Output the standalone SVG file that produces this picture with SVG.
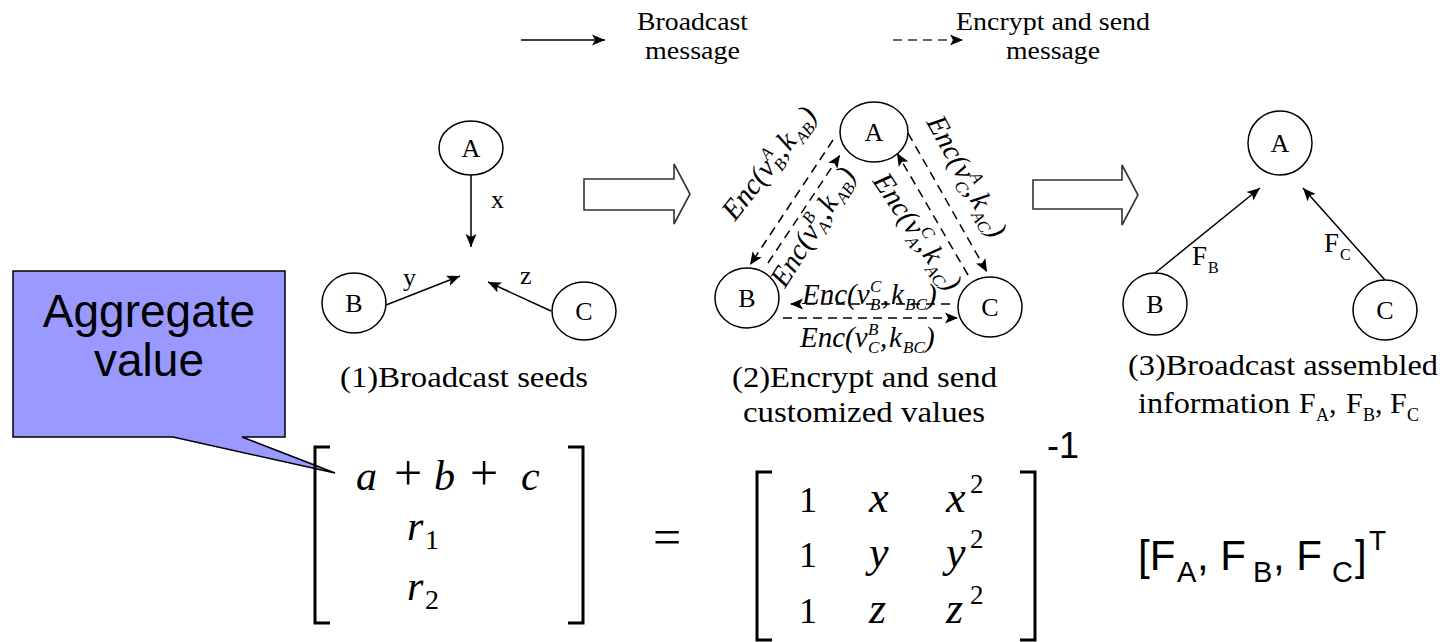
<svg xmlns="http://www.w3.org/2000/svg" width="1446" height="642" viewBox="0 0 1446 642">
<defs>
<marker id="ah" markerUnits="userSpaceOnUse" markerWidth="14" markerHeight="12" refX="13" refY="6" orient="auto">
<path d="M0,0.5 L13,6 L0,11.5 L3,6 Z" fill="#000" stroke="none"/>
</marker>
<style>
.ser{font-family:"Liberation Serif","Times New Roman",serif;fill:#000}
.san{font-family:"Liberation Sans",Arial,sans-serif;fill:#000}
.it{font-style:italic}
.node{fill:#fff;stroke:#000;stroke-width:1.5}
.solid{stroke:#000;stroke-width:1.5;fill:none;marker-end:url(#ah)}
.dash{stroke:#000;stroke-width:1.5;fill:none;stroke-dasharray:9 6;marker-end:url(#ah)}
.blk{fill:#fff;stroke:#333;stroke-width:1.6}
.brk{fill:none;stroke:#000;stroke-width:3}
.lbl{font-size:26px;text-anchor:middle}
.cap{font-size:30px}
.enc{font-size:29px}
.sm{font-size:17px}
</style>
</defs>
<rect width="1446" height="642" fill="#fff"/>

<g id="legend">
<line class="solid" x1="521" y1="40" x2="605" y2="40"/>
<text class="ser" x="637" y="30" font-size="25" textLength="111" lengthAdjust="spacingAndGlyphs">Broadcast</text>
<text class="ser" x="645" y="59" font-size="25" textLength="95" lengthAdjust="spacingAndGlyphs">message</text>
<line class="dash" x1="893" y1="40" x2="963" y2="40" style="stroke:#333"/>
<text class="ser" x="956" y="30" font-size="25" textLength="194" lengthAdjust="spacingAndGlyphs">Encrypt and send</text>
<text class="ser" x="1006" y="59" font-size="25" textLength="94" lengthAdjust="spacingAndGlyphs">message</text>
</g>

<g id="connectors">
<line class="solid" x1="471" y1="174" x2="471" y2="247"/>
<line class="solid" x1="386" y1="305" x2="460" y2="276"/>
<line class="solid" x1="551" y1="311" x2="488" y2="282"/>
<line class="dash" x1="833" y1="140" x2="750" y2="265"/>
<line class="dash" x1="768" y1="263" x2="840" y2="155"/>
<line class="dash" x1="908" y1="133" x2="987" y2="272"/>
<line class="dash" x1="968" y1="275" x2="897" y2="153"/>
<line class="dash" x1="950" y1="304" x2="790" y2="304"/>
<line class="dash" x1="783" y1="318" x2="958" y2="318"/>
<line class="solid" x1="1155" y1="273" x2="1260" y2="188"/>
<line class="solid" x1="1385" y1="280" x2="1303" y2="188"/>
</g>

<g id="p1-labels">
<text class="ser" x="491" y="208" font-size="26">x</text>
<text class="ser" x="403" y="286" font-size="26">y</text>
<text class="ser" x="520" y="284" font-size="26">z</text>
<text class="ser cap" x="340" y="387" textLength="248" lengthAdjust="spacingAndGlyphs">(1)Broadcast seeds</text>
</g>

<g id="p1-A"><ellipse class="node" cx="471" cy="148" rx="32" ry="27"/><text class="ser lbl" x="471" y="157">A</text></g>
<g id="p1-B"><ellipse class="node" cx="354" cy="303" rx="32" ry="30"/><text class="ser lbl" x="354" y="312">B</text></g>
<g id="p1-C"><ellipse class="node" cx="584" cy="311" rx="32" ry="29"/><text class="ser lbl" x="584" y="320">C</text></g>

<g id="block-arrow-1"><path class="blk" d="M584,179 H674 V164 L690,194 L674,224 V210 H584 Z"/></g>
<g id="block-arrow-2"><path class="blk" d="M1033,180 H1122 V165 L1138,195 L1122,225 V209 H1033 Z"/></g>

<g id="p2-A"><ellipse class="node" cx="874" cy="132" rx="34" ry="30"/><text class="ser lbl" x="874" y="141">A</text></g>
<g id="p2-B"><ellipse class="node" cx="747" cy="298" rx="32" ry="30"/><text class="ser lbl" x="747" y="307">B</text></g>
<g id="p2-C"><ellipse class="node" cx="990" cy="307" rx="32" ry="30"/><text class="ser lbl" x="990" y="316">C</text></g>

<g id="p2-labels" class="ser it">
<g transform="translate(735,222) rotate(-52)">
<text class="enc"><tspan x="0" y="0">Enc(v</tspan><tspan class="sm" x="68" y="-12">A</tspan><tspan class="sm" x="68" y="6">B</tspan><tspan x="80" y="0">,</tspan><tspan x="89" y="0">k</tspan><tspan class="sm" x="103" y="6">AB</tspan><tspan x="125" y="0">)</tspan></text>
</g>
<g transform="translate(785,289) rotate(-58)">
<text class="enc"><tspan x="0" y="0">Enc(v</tspan><tspan class="sm" x="68" y="-12">B</tspan><tspan class="sm" x="68" y="6">A</tspan><tspan x="80" y="0">,</tspan><tspan x="89" y="0">k</tspan><tspan class="sm" x="103" y="6">AB</tspan><tspan x="125" y="0">)</tspan></text>
</g>
<g transform="translate(926,122) rotate(61)">
<text class="enc"><tspan x="0" y="0">Enc(v</tspan><tspan class="sm" x="68" y="-12">A</tspan><tspan class="sm" x="68" y="6">C</tspan><tspan x="80" y="0">,</tspan><tspan x="89" y="0">k</tspan><tspan class="sm" x="103" y="6">AC</tspan><tspan x="125" y="0">)</tspan></text>
</g>
<g transform="translate(872,181) rotate(56)">
<text class="enc"><tspan x="0" y="0">Enc(v</tspan><tspan class="sm" x="68" y="-12">C</tspan><tspan class="sm" x="68" y="6">A</tspan><tspan x="80" y="0">,</tspan><tspan x="89" y="0">k</tspan><tspan class="sm" x="103" y="6">AC</tspan><tspan x="125" y="0">)</tspan></text>
</g>
<g transform="translate(802,304)">
<text class="enc"><tspan x="0" y="0">Enc(v</tspan><tspan class="sm" x="68" y="-12">C</tspan><tspan class="sm" x="68" y="6">B</tspan><tspan x="80" y="0">,</tspan><tspan x="89" y="0">k</tspan><tspan class="sm" x="103" y="6">BC</tspan><tspan x="125" y="0">)</tspan></text>
</g>
<g transform="translate(800,347)">
<text class="enc"><tspan x="0" y="0">Enc(v</tspan><tspan class="sm" x="68" y="-12">B</tspan><tspan class="sm" x="68" y="6">C</tspan><tspan x="80" y="0">,</tspan><tspan x="89" y="0">k</tspan><tspan class="sm" x="103" y="6">BC</tspan><tspan x="125" y="0">)</tspan></text>
</g>
</g>
<g id="p2-caption">
<text class="ser cap" x="732" y="387" textLength="265" lengthAdjust="spacingAndGlyphs">(2)Encrypt and send</text>
<text class="ser cap" x="743" y="422" textLength="242" lengthAdjust="spacingAndGlyphs">customized values</text>
</g>

<g id="p3-A"><ellipse class="node" cx="1280" cy="143" rx="32" ry="32"/><text class="ser lbl" x="1280" y="152">A</text></g>
<g id="p3-B"><ellipse class="node" cx="1155" cy="304" rx="32" ry="31"/><text class="ser lbl" x="1155" y="313">B</text></g>
<g id="p3-C"><ellipse class="node" cx="1385" cy="310" rx="32" ry="30"/><text class="ser lbl" x="1385" y="319">C</text></g>
<g id="p3-labels">
<text class="ser" font-size="27"><tspan x="1192" y="265">F</tspan><tspan font-size="16" x="1208" y="273">B</tspan></text>
<text class="ser" font-size="27"><tspan x="1324" y="252">F</tspan><tspan font-size="16" x="1340" y="260">C</tspan></text>
<text class="ser cap" x="1128" y="375" textLength="310" lengthAdjust="spacingAndGlyphs">(3)Broadcast assembled</text>
<text class="ser cap"><tspan x="1138" y="413" textLength="152" lengthAdjust="spacingAndGlyphs">information</tspan><tspan x="1299" y="413">F</tspan><tspan font-size="18" x="1316" y="421">A</tspan><tspan x="1329" y="413">,</tspan><tspan x="1346" y="413">F</tspan><tspan font-size="18" x="1363" y="421">B</tspan><tspan x="1375" y="413">,</tspan><tspan x="1390" y="413">F</tspan><tspan font-size="18" x="1407" y="421">C</tspan></text>
</g>

<g id="callout">
<path d="M13,271 H285 V437 H242 L335,473 L173,437 H13 Z" fill="#9999FF" stroke="#000" stroke-width="1.5"/>
<text class="san" x="149" y="327" font-size="46" text-anchor="middle">Aggregate</text>
<text class="san" x="149" y="376" font-size="46" text-anchor="middle">value</text>
</g>

<g id="left-vector">
<path class="brk" d="M330,447 H315 V623 H330"/>
<path class="brk" d="M568,447 H583 V623 H568"/>
<text class="ser it" font-size="42" x="356" y="490">a</text>
<text class="ser" font-size="50" x="408" y="490" text-anchor="middle">+</text>
<text class="ser it" font-size="42" x="434" y="490">b</text>
<text class="ser" font-size="50" x="484" y="490" text-anchor="middle">+</text>
<text class="ser it" font-size="42" x="521" y="490">c</text>
<text class="ser" font-size="42"><tspan font-style="italic" x="407" y="540">r</tspan><tspan font-size="28" x="425" y="549">1</tspan></text>
<text class="ser" font-size="42"><tspan font-style="italic" x="407" y="600">r</tspan><tspan font-size="28" x="425" y="609">2</tspan></text>
</g>

<g id="equals"><text class="ser" font-size="50" x="667" y="554" text-anchor="middle">=</text></g>

<g id="right-matrix">
<path class="brk" d="M772,472 H757 V640 H772"/>
<path class="brk" d="M1020,472 H1035 V640 H1020"/>
<g class="ser" font-size="36">
<text x="799" y="512">1</text>
<text x="799" y="567">1</text>
<text x="799" y="623">1</text>
</g>
<g class="ser it" font-size="44">
<text x="869" y="512">x</text>
<text x="869" y="567">y</text>
<text x="869" y="623">z</text>
<text x="946" y="512">x</text>
<text x="946" y="567">y</text>
<text x="946" y="623">z</text>
</g>
<g class="ser" font-size="27">
<text x="970" y="493">2</text>
<text x="970" y="548">2</text>
<text x="970" y="604">2</text>
</g>
<text class="san" x="1047" y="458" font-size="36">-1</text>
</g>

<g id="f-vector">
<text class="san" font-size="42"><tspan x="1138" y="570">[F</tspan><tspan font-size="29" x="1177" y="582">A</tspan><tspan x="1197" y="570">, F</tspan><tspan font-size="29" x="1253" y="582">B</tspan><tspan x="1273" y="570">, F</tspan><tspan font-size="29" x="1332" y="582">C</tspan><tspan x="1355" y="570">]</tspan><tspan font-size="28" x="1369" y="550">T</tspan></text>
</g>
</svg>
